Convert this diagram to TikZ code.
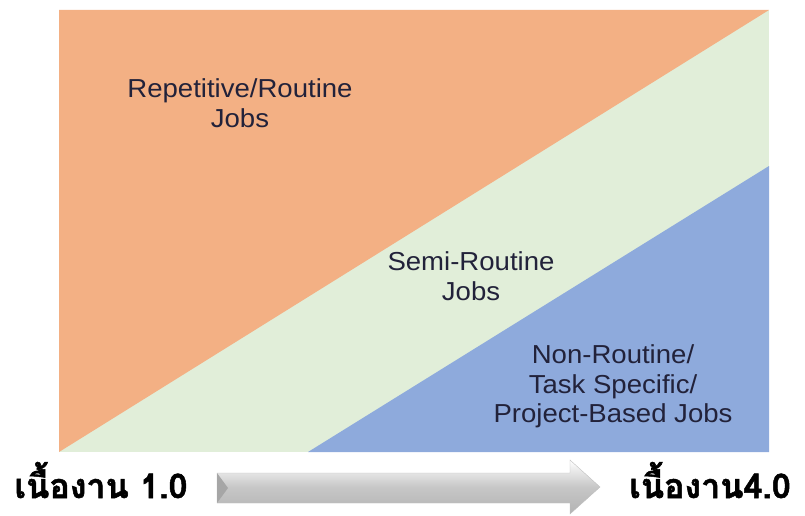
\documentclass[tikz,border=0pt]{standalone}
\usepackage{fontspec}
\setmainfont{Liberation Sans}[FakeStretch=1.06]
\newfontfamily\thaifont[Script=Thai,FakeBold=1.5]{Loma}
\begin{document}
\definecolor{orangefill}{HTML}{F3B084}
\definecolor{greenfill}{HTML}{E1EED9}
\definecolor{bluefill}{HTML}{8EAADC}
\definecolor{textdark}{HTML}{22223A}
\begin{tikzpicture}[x=1pt,y=-1pt,
  lbl/.style={anchor=base,inner sep=0pt,text=textdark,font=\fontsize{26}{30}\selectfont},
  thai/.style={anchor=base,inner sep=0pt,text=black,font=\thaifont\bfseries\fontsize{34}{38}\selectfont}]
\useasboundingbox (0,0) rectangle (805,516);
% background areas
\fill[greenfill] (59,10) rectangle (769,452);
\fill[orangefill] (59,10) -- (769,10) -- (59,452) -- cycle;
\fill[bluefill] (308,452) -- (769,166) -- (769,452) -- cycle;
% labels
\node[lbl] (r1) at (240,98) {Repetitive/Routine};
\node[lbl] (r2) at (240,128) {Jobs};
\node[lbl] (s1) at (471,270) {Semi-Routine};
\node[lbl] (s2) at (471,300) {Jobs};
\node[lbl] (n1) at (613,363) {Non-Routine/};
\node[lbl] (n2) at (613,393) {Task Specific/};
\node[lbl] (n3) at (613,422) {Project-Based Jobs};
% bottom
\node[thai] (t1) at (101,498) {เนื้องาน 1.0};
\node[thai] (t4) at (710,498) {เนื้องาน4.0};
\shade[top color=white,bottom color=black!30,middle color=black!22,draw=black!25,line width=0.4pt]
  (217,473) -- (570,473) -- (570,460) -- (600,487) -- (570,514) -- (570,503) -- (217,503) -- cycle;
\fill[black!35] (217,473) -- (228,488) -- (217,503) -- cycle;
\end{tikzpicture}
\end{document}
